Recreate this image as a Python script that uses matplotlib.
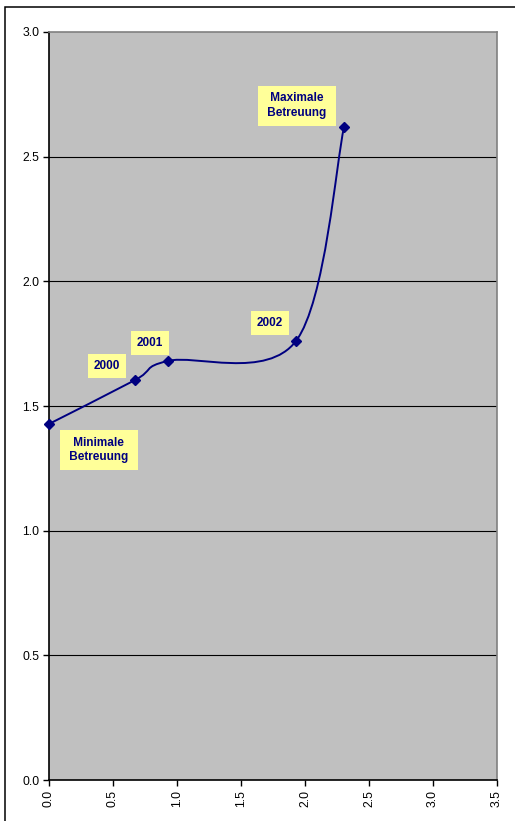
import matplotlib
matplotlib.use("Agg")
import matplotlib.pyplot as plt
from matplotlib.path import Path
from matplotlib.patches import PathPatch, Rectangle
import numpy as np

plt.rcParams['font.family'] = ['Liberation Sans', 'DejaVu Sans']

# data
x_vals = [0.0, 0.672, 0.930, 1.930, 2.305]
y_vals = [1.428, 1.604, 1.681, 1.761, 2.619]
labels = ["Minimale\nBetreuung", "2000", "2001", "2002", "Maximale\nBetreuung"]
label_x = [0.39, 0.453, 0.789, 1.727, 1.938]
label_y = [1.324, 1.661, 1.753, 1.833, 2.704]
x_ticks = [0.0, 0.5, 1.0, 1.5, 2.0, 2.5, 3.0, 3.5]
y_ticks = [0.0, 0.5, 1.0, 1.5, 2.0, 2.5, 3.0]

navy = '#000080'

fig = plt.figure(figsize=(5.15, 8.21), dpi=100)
fig.patch.set_facecolor('white')
# outer chart frame (only top/left visible)
fig.add_artist(Rectangle((5/515, -0.1), 1.2, 1 - 7/821 + 0.1, transform=fig.transFigure,
                         fill=False, edgecolor='black', linewidth=1.1))

ax = fig.add_axes([49/515, 1 - 780/821, 448/515, 748/821])
ax.set_facecolor('#C0C0C0')
ax.set_xlim(0, 3.5)
ax.set_ylim(0, 3.0)
ax.set_xticks(x_ticks)
ax.set_yticks(y_ticks)
ax.set_xticklabels([f"{t:.1f}" for t in x_ticks], rotation=90)
ax.set_yticklabels([f"{t:.1f}" for t in y_ticks])
ax.tick_params(direction='out', length=4, width=1, labelsize=8.8, colors='black', pad=3)
for yv in y_ticks[1:-1]:
    ax.axhline(yv, color='black', linewidth=0.8, zorder=1)
ax.spines['left'].set_color('black')
ax.spines['bottom'].set_color('black')
ax.spines['top'].set_color('#808080')
ax.spines['right'].set_color('#808080')
for s in ax.spines.values():
    s.set_linewidth(1.2)

# smoothed line (Catmull-Rom style Bezier, as Excel smoothing)
P = np.column_stack([x_vals, y_vals])
n = len(P)
verts = [tuple(P[0])]
codes = [Path.MOVETO]
for i in range(n - 1):
    p0 = P[i - 1] if i > 0 else P[i]
    p1 = P[i]
    p2 = P[i + 1]
    p3 = P[i + 2] if i + 2 < n else P[i + 1]
    c1 = p1 + (p2 - p0) / 6
    c2 = p2 - (p3 - p1) / 6
    verts += [tuple(c1), tuple(c2), tuple(p2)]
    codes += [Path.CURVE4] * 3
ax.add_patch(PathPatch(Path(verts, codes), facecolor='none', edgecolor=navy,
                       linewidth=1.4, zorder=3))
ax.plot(x_vals, y_vals, linestyle='none', marker='D', markersize=5.5,
        color=navy, zorder=4, clip_on=False)

for lx, ly, t in zip(label_x, label_y, labels):
    two = '\n' in t
    shown = '\n'.join(' ' + s + ' ' for s in t.split('\n')) if two else t
    ax.text(lx, ly, shown, ha='center', va='center', fontsize=8.5, fontweight='bold',
            color=navy, linespacing=1.3, zorder=5,
            bbox=dict(boxstyle='square,pad=%.2f' % (0.55 if two else 0.5),
                      facecolor='#FFFF99', edgecolor='none'))

fig.savefig('out.png', dpi=100)
